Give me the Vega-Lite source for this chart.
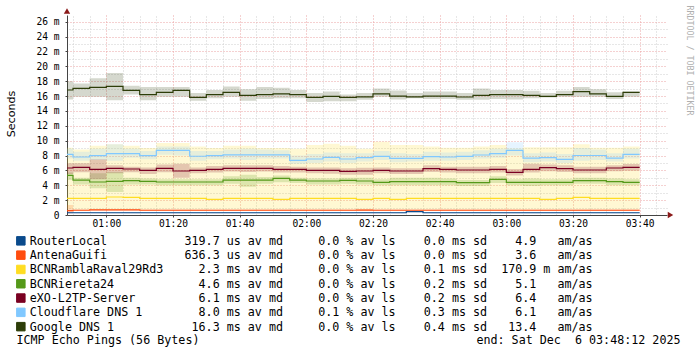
{
"$schema": "https://vega.github.io/schema/vega-lite/v6.json",
"width": 600,
"height": 200,
"autosize": {"type": "none"},
"padding": {"left": 67, "top": 15, "right": 30, "bottom": 138},
"background": "white",
"config": {"view": {"stroke": null}},
"resolve": {"axis": {"x": "independent", "y": "independent"}},
"layer": [
{
"data": {"format": {"parse": {"t": "utc:'%H:%M:%S'"}}, "values": [
{"s":"RouterLocal","t":"00:48:12","m":0.3,"l":0.24,"h":0.38},
{"s":"RouterLocal","t":"00:50:00","m":0.3,"l":0.24,"h":0.38},
{"s":"RouterLocal","t":"00:55:00","m":0.3,"l":0.24,"h":0.38},
{"s":"RouterLocal","t":"01:00:00","m":0.3,"l":0.24,"h":0.38},
{"s":"RouterLocal","t":"01:05:00","m":0.3,"l":0.24,"h":0.38},
{"s":"RouterLocal","t":"01:10:00","m":0.3,"l":0.24,"h":0.38},
{"s":"RouterLocal","t":"01:15:00","m":0.3,"l":0.24,"h":0.38},
{"s":"RouterLocal","t":"01:20:00","m":0.3,"l":0.24,"h":0.38},
{"s":"RouterLocal","t":"01:25:00","m":0.3,"l":0.24,"h":0.38},
{"s":"RouterLocal","t":"01:30:00","m":0.3,"l":0.24,"h":0.38},
{"s":"RouterLocal","t":"01:35:00","m":0.3,"l":0.24,"h":0.38},
{"s":"RouterLocal","t":"01:40:00","m":0.3,"l":0.24,"h":0.38},
{"s":"RouterLocal","t":"01:45:00","m":0.3,"l":0.24,"h":0.38},
{"s":"RouterLocal","t":"01:50:00","m":0.3,"l":0.24,"h":0.38},
{"s":"RouterLocal","t":"01:55:00","m":0.3,"l":0.24,"h":0.38},
{"s":"RouterLocal","t":"02:00:00","m":0.3,"l":0.24,"h":0.38},
{"s":"RouterLocal","t":"02:05:00","m":0.3,"l":0.24,"h":0.38},
{"s":"RouterLocal","t":"02:10:00","m":0.3,"l":0.24,"h":0.38},
{"s":"RouterLocal","t":"02:15:00","m":0.3,"l":0.24,"h":0.38},
{"s":"RouterLocal","t":"02:20:00","m":0.3,"l":0.24,"h":0.38},
{"s":"RouterLocal","t":"02:25:00","m":0.3,"l":0.24,"h":0.38},
{"s":"RouterLocal","t":"02:30:00","m":0.45,"l":0.38,"h":0.52},
{"s":"RouterLocal","t":"02:35:00","m":0.3,"l":0.24,"h":0.38},
{"s":"RouterLocal","t":"02:40:00","m":0.3,"l":0.24,"h":0.38},
{"s":"RouterLocal","t":"02:45:00","m":0.3,"l":0.24,"h":0.38},
{"s":"RouterLocal","t":"02:50:00","m":0.3,"l":0.24,"h":0.38},
{"s":"RouterLocal","t":"02:55:00","m":0.3,"l":0.24,"h":0.38},
{"s":"RouterLocal","t":"03:00:00","m":0.3,"l":0.24,"h":0.38},
{"s":"RouterLocal","t":"03:05:00","m":0.3,"l":0.24,"h":0.38},
{"s":"RouterLocal","t":"03:10:00","m":0.3,"l":0.24,"h":0.38},
{"s":"RouterLocal","t":"03:15:00","m":0.3,"l":0.24,"h":0.38},
{"s":"RouterLocal","t":"03:20:00","m":0.3,"l":0.24,"h":0.38},
{"s":"RouterLocal","t":"03:25:00","m":0.3,"l":0.24,"h":0.38},
{"s":"RouterLocal","t":"03:30:00","m":0.3,"l":0.24,"h":0.38},
{"s":"RouterLocal","t":"03:35:00","m":0.3,"l":0.24,"h":0.38},
{"s":"RouterLocal","t":"03:40:00","m":0.3,"l":0.24,"h":0.38},
{"s":"AntenaGuifi","t":"00:48:12","m":0.6,"l":0.25,"h":1.35},
{"s":"AntenaGuifi","t":"00:50:00","m":0.64,"l":0.55,"h":0.75},
{"s":"AntenaGuifi","t":"00:55:00","m":0.68,"l":0.58,"h":0.8},
{"s":"AntenaGuifi","t":"01:00:00","m":0.68,"l":0.58,"h":0.8},
{"s":"AntenaGuifi","t":"01:05:00","m":0.68,"l":0.58,"h":0.8},
{"s":"AntenaGuifi","t":"01:10:00","m":0.64,"l":0.55,"h":0.75},
{"s":"AntenaGuifi","t":"01:15:00","m":0.64,"l":0.55,"h":0.75},
{"s":"AntenaGuifi","t":"01:20:00","m":0.64,"l":0.55,"h":0.75},
{"s":"AntenaGuifi","t":"01:25:00","m":0.64,"l":0.55,"h":0.75},
{"s":"AntenaGuifi","t":"01:30:00","m":0.64,"l":0.55,"h":0.75},
{"s":"AntenaGuifi","t":"01:35:00","m":0.64,"l":0.55,"h":0.75},
{"s":"AntenaGuifi","t":"01:40:00","m":0.64,"l":0.55,"h":0.75},
{"s":"AntenaGuifi","t":"01:45:00","m":0.64,"l":0.55,"h":0.75},
{"s":"AntenaGuifi","t":"01:50:00","m":0.64,"l":0.55,"h":0.75},
{"s":"AntenaGuifi","t":"01:55:00","m":0.64,"l":0.55,"h":0.75},
{"s":"AntenaGuifi","t":"02:00:00","m":0.64,"l":0.55,"h":0.75},
{"s":"AntenaGuifi","t":"02:05:00","m":0.64,"l":0.55,"h":0.75},
{"s":"AntenaGuifi","t":"02:10:00","m":0.64,"l":0.55,"h":0.75},
{"s":"AntenaGuifi","t":"02:15:00","m":0.66,"l":0.55,"h":0.8},
{"s":"AntenaGuifi","t":"02:20:00","m":0.64,"l":0.55,"h":0.75},
{"s":"AntenaGuifi","t":"02:25:00","m":0.64,"l":0.55,"h":0.75},
{"s":"AntenaGuifi","t":"02:30:00","m":0.64,"l":0.55,"h":0.75},
{"s":"AntenaGuifi","t":"02:35:00","m":0.64,"l":0.55,"h":0.75},
{"s":"AntenaGuifi","t":"02:40:00","m":0.64,"l":0.55,"h":0.75},
{"s":"AntenaGuifi","t":"02:45:00","m":0.64,"l":0.55,"h":0.75},
{"s":"AntenaGuifi","t":"02:50:00","m":0.64,"l":0.55,"h":0.75},
{"s":"AntenaGuifi","t":"02:55:00","m":0.64,"l":0.55,"h":0.75},
{"s":"AntenaGuifi","t":"03:00:00","m":0.64,"l":0.55,"h":0.75},
{"s":"AntenaGuifi","t":"03:05:00","m":0.64,"l":0.55,"h":0.75},
{"s":"AntenaGuifi","t":"03:10:00","m":0.64,"l":0.55,"h":0.75},
{"s":"AntenaGuifi","t":"03:15:00","m":0.64,"l":0.55,"h":0.75},
{"s":"AntenaGuifi","t":"03:20:00","m":0.64,"l":0.55,"h":0.75},
{"s":"AntenaGuifi","t":"03:25:00","m":0.64,"l":0.55,"h":0.75},
{"s":"AntenaGuifi","t":"03:30:00","m":0.64,"l":0.55,"h":0.75},
{"s":"AntenaGuifi","t":"03:35:00","m":0.64,"l":0.55,"h":0.75},
{"s":"AntenaGuifi","t":"03:40:00","m":0.64,"l":0.55,"h":0.75},
{"s":"BCNRamblaRaval29Rd3","t":"00:48:12","m":2.24,"l":0.75,"h":9.05},
{"s":"BCNRamblaRaval29Rd3","t":"00:50:00","m":2.24,"l":0.75,"h":8.8},
{"s":"BCNRamblaRaval29Rd3","t":"00:55:00","m":2.24,"l":0.75,"h":9.3},
{"s":"BCNRamblaRaval29Rd3","t":"01:00:00","m":2.42,"l":0.75,"h":9.5},
{"s":"BCNRamblaRaval29Rd3","t":"01:05:00","m":2.38,"l":0.75,"h":9.3},
{"s":"BCNRamblaRaval29Rd3","t":"01:10:00","m":2.24,"l":0.75,"h":9.0},
{"s":"BCNRamblaRaval29Rd3","t":"01:15:00","m":2.24,"l":0.75,"h":9.7},
{"s":"BCNRamblaRaval29Rd3","t":"01:20:00","m":2.24,"l":0.75,"h":9.7},
{"s":"BCNRamblaRaval29Rd3","t":"01:25:00","m":2.24,"l":0.75,"h":9.2},
{"s":"BCNRamblaRaval29Rd3","t":"01:30:00","m":2.1,"l":0.75,"h":9.0},
{"s":"BCNRamblaRaval29Rd3","t":"01:35:00","m":2.24,"l":0.75,"h":9.3},
{"s":"BCNRamblaRaval29Rd3","t":"01:40:00","m":2.24,"l":0.75,"h":9.3},
{"s":"BCNRamblaRaval29Rd3","t":"01:45:00","m":2.24,"l":0.75,"h":9.0},
{"s":"BCNRamblaRaval29Rd3","t":"01:50:00","m":2.1,"l":0.75,"h":9.0},
{"s":"BCNRamblaRaval29Rd3","t":"01:55:00","m":2.24,"l":0.75,"h":8.9},
{"s":"BCNRamblaRaval29Rd3","t":"02:00:00","m":2.24,"l":0.75,"h":9.4},
{"s":"BCNRamblaRaval29Rd3","t":"02:05:00","m":2.24,"l":0.75,"h":9.6},
{"s":"BCNRamblaRaval29Rd3","t":"02:10:00","m":2.24,"l":0.75,"h":9.3},
{"s":"BCNRamblaRaval29Rd3","t":"02:15:00","m":2.1,"l":0.75,"h":8.9},
{"s":"BCNRamblaRaval29Rd3","t":"02:20:00","m":2.24,"l":0.75,"h":9.86},
{"s":"BCNRamblaRaval29Rd3","t":"02:25:00","m":2.1,"l":0.75,"h":9.4},
{"s":"BCNRamblaRaval29Rd3","t":"02:30:00","m":2.24,"l":0.75,"h":9.4},
{"s":"BCNRamblaRaval29Rd3","t":"02:35:00","m":2.24,"l":0.75,"h":9.2},
{"s":"BCNRamblaRaval29Rd3","t":"02:40:00","m":2.24,"l":0.75,"h":9.05},
{"s":"BCNRamblaRaval29Rd3","t":"02:45:00","m":2.24,"l":0.75,"h":9.05},
{"s":"BCNRamblaRaval29Rd3","t":"02:50:00","m":2.24,"l":0.75,"h":9.2},
{"s":"BCNRamblaRaval29Rd3","t":"02:55:00","m":2.24,"l":0.75,"h":9.4},
{"s":"BCNRamblaRaval29Rd3","t":"03:00:00","m":2.24,"l":0.75,"h":8.96},
{"s":"BCNRamblaRaval29Rd3","t":"03:05:00","m":2.24,"l":0.75,"h":9.1},
{"s":"BCNRamblaRaval29Rd3","t":"03:10:00","m":2.1,"l":0.75,"h":9.1},
{"s":"BCNRamblaRaval29Rd3","t":"03:15:00","m":2.24,"l":0.75,"h":9.1},
{"s":"BCNRamblaRaval29Rd3","t":"03:20:00","m":2.38,"l":0.75,"h":9.5},
{"s":"BCNRamblaRaval29Rd3","t":"03:25:00","m":2.24,"l":0.75,"h":9.05},
{"s":"BCNRamblaRaval29Rd3","t":"03:30:00","m":2.24,"l":0.75,"h":9.05},
{"s":"BCNRamblaRaval29Rd3","t":"03:35:00","m":2.24,"l":0.75,"h":9.2},
{"s":"BCNRamblaRaval29Rd3","t":"03:40:00","m":2.24,"l":0.75,"h":9.2},
{"s":"BCNRiereta24","t":"00:48:12","m":5.33,"l":4.7,"h":5.7},
{"s":"BCNRiereta24","t":"00:50:00","m":4.7,"l":4.1,"h":5.0},
{"s":"BCNRiereta24","t":"00:55:00","m":4.44,"l":3.6,"h":5.6},
{"s":"BCNRiereta24","t":"01:00:00","m":4.53,"l":3.1,"h":5.8},
{"s":"BCNRiereta24","t":"01:05:00","m":4.62,"l":4.1,"h":5.0},
{"s":"BCNRiereta24","t":"01:10:00","m":4.53,"l":4.1,"h":4.9},
{"s":"BCNRiereta24","t":"01:15:00","m":4.44,"l":4.0,"h":4.8},
{"s":"BCNRiereta24","t":"01:20:00","m":4.44,"l":4.0,"h":4.8},
{"s":"BCNRiereta24","t":"01:25:00","m":4.44,"l":4.0,"h":4.8},
{"s":"BCNRiereta24","t":"01:30:00","m":4.44,"l":4.0,"h":4.8},
{"s":"BCNRiereta24","t":"01:35:00","m":4.7,"l":4.2,"h":5.2},
{"s":"BCNRiereta24","t":"01:40:00","m":4.7,"l":3.8,"h":5.4},
{"s":"BCNRiereta24","t":"01:45:00","m":4.7,"l":4.2,"h":5.1},
{"s":"BCNRiereta24","t":"01:50:00","m":4.93,"l":4.4,"h":5.3},
{"s":"BCNRiereta24","t":"01:55:00","m":4.7,"l":4.3,"h":5.0},
{"s":"BCNRiereta24","t":"02:00:00","m":4.57,"l":4.1,"h":4.9},
{"s":"BCNRiereta24","t":"02:05:00","m":4.57,"l":4.1,"h":4.9},
{"s":"BCNRiereta24","t":"02:10:00","m":4.66,"l":4.2,"h":5.0},
{"s":"BCNRiereta24","t":"02:15:00","m":4.57,"l":4.1,"h":5.0},
{"s":"BCNRiereta24","t":"02:20:00","m":4.39,"l":4.0,"h":4.8},
{"s":"BCNRiereta24","t":"02:25:00","m":4.48,"l":4.0,"h":5.0},
{"s":"BCNRiereta24","t":"02:30:00","m":4.48,"l":4.0,"h":5.0},
{"s":"BCNRiereta24","t":"02:35:00","m":4.48,"l":4.0,"h":5.0},
{"s":"BCNRiereta24","t":"02:40:00","m":4.48,"l":4.0,"h":4.9},
{"s":"BCNRiereta24","t":"02:45:00","m":4.35,"l":3.9,"h":4.7},
{"s":"BCNRiereta24","t":"02:50:00","m":4.35,"l":3.9,"h":4.7},
{"s":"BCNRiereta24","t":"02:55:00","m":4.8,"l":4.3,"h":5.2},
{"s":"BCNRiereta24","t":"03:00:00","m":4.39,"l":4.0,"h":4.8},
{"s":"BCNRiereta24","t":"03:05:00","m":4.39,"l":3.9,"h":4.9},
{"s":"BCNRiereta24","t":"03:10:00","m":4.39,"l":4.0,"h":4.8},
{"s":"BCNRiereta24","t":"03:15:00","m":4.39,"l":4.0,"h":4.8},
{"s":"BCNRiereta24","t":"03:20:00","m":4.62,"l":4.2,"h":5.0},
{"s":"BCNRiereta24","t":"03:25:00","m":4.62,"l":4.2,"h":5.0},
{"s":"BCNRiereta24","t":"03:30:00","m":4.48,"l":4.0,"h":4.9},
{"s":"BCNRiereta24","t":"03:35:00","m":4.39,"l":4.0,"h":4.8},
{"s":"BCNRiereta24","t":"03:40:00","m":4.39,"l":4.0,"h":4.8},
{"s":"eXO-L2TP-Server","t":"00:48:12","m":6.32,"l":5.5,"h":6.95},
{"s":"eXO-L2TP-Server","t":"00:50:00","m":6.41,"l":5.75,"h":6.95},
{"s":"eXO-L2TP-Server","t":"00:55:00","m":6.14,"l":4.8,"h":7.5},
{"s":"eXO-L2TP-Server","t":"01:00:00","m":6.28,"l":5.6,"h":6.7},
{"s":"eXO-L2TP-Server","t":"01:05:00","m":6.19,"l":5.75,"h":6.5},
{"s":"eXO-L2TP-Server","t":"01:10:00","m":6.0,"l":5.5,"h":6.4},
{"s":"eXO-L2TP-Server","t":"01:15:00","m":6.28,"l":5.75,"h":6.8},
{"s":"eXO-L2TP-Server","t":"01:20:00","m":5.92,"l":5.0,"h":6.9},
{"s":"eXO-L2TP-Server","t":"01:25:00","m":6.0,"l":5.6,"h":6.4},
{"s":"eXO-L2TP-Server","t":"01:30:00","m":6.14,"l":5.7,"h":6.6},
{"s":"eXO-L2TP-Server","t":"01:35:00","m":6.28,"l":5.85,"h":6.7},
{"s":"eXO-L2TP-Server","t":"01:40:00","m":6.28,"l":5.8,"h":6.7},
{"s":"eXO-L2TP-Server","t":"01:45:00","m":6.28,"l":5.85,"h":6.7},
{"s":"eXO-L2TP-Server","t":"01:50:00","m":6.14,"l":5.7,"h":6.6},
{"s":"eXO-L2TP-Server","t":"01:55:00","m":6.14,"l":5.7,"h":6.5},
{"s":"eXO-L2TP-Server","t":"02:00:00","m":6.0,"l":5.6,"h":6.4},
{"s":"eXO-L2TP-Server","t":"02:05:00","m":6.0,"l":5.55,"h":6.4},
{"s":"eXO-L2TP-Server","t":"02:10:00","m":5.87,"l":5.4,"h":6.3},
{"s":"eXO-L2TP-Server","t":"02:15:00","m":5.92,"l":5.4,"h":6.35},
{"s":"eXO-L2TP-Server","t":"02:20:00","m":6.0,"l":5.6,"h":6.4},
{"s":"eXO-L2TP-Server","t":"02:25:00","m":5.92,"l":5.5,"h":6.3},
{"s":"eXO-L2TP-Server","t":"02:30:00","m":5.92,"l":5.5,"h":6.3},
{"s":"eXO-L2TP-Server","t":"02:35:00","m":6.23,"l":5.8,"h":6.7},
{"s":"eXO-L2TP-Server","t":"02:40:00","m":6.14,"l":5.7,"h":6.5},
{"s":"eXO-L2TP-Server","t":"02:45:00","m":6.05,"l":5.6,"h":6.5},
{"s":"eXO-L2TP-Server","t":"02:50:00","m":6.05,"l":5.6,"h":6.5},
{"s":"eXO-L2TP-Server","t":"02:55:00","m":6.14,"l":5.7,"h":6.6},
{"s":"eXO-L2TP-Server","t":"03:00:00","m":5.74,"l":5.3,"h":6.2},
{"s":"eXO-L2TP-Server","t":"03:05:00","m":6.14,"l":5.7,"h":6.9},
{"s":"eXO-L2TP-Server","t":"03:10:00","m":6.36,"l":5.9,"h":6.8},
{"s":"eXO-L2TP-Server","t":"03:15:00","m":6.23,"l":5.8,"h":6.7},
{"s":"eXO-L2TP-Server","t":"03:20:00","m":6.05,"l":5.6,"h":6.5},
{"s":"eXO-L2TP-Server","t":"03:25:00","m":6.05,"l":5.6,"h":6.5},
{"s":"eXO-L2TP-Server","t":"03:30:00","m":6.32,"l":5.9,"h":6.7},
{"s":"eXO-L2TP-Server","t":"03:35:00","m":6.41,"l":5.95,"h":6.85},
{"s":"eXO-L2TP-Server","t":"03:40:00","m":6.41,"l":5.95,"h":6.85},
{"s":"Cloudflare DNS 1","t":"00:48:12","m":8.16,"l":7.6,"h":8.9},
{"s":"Cloudflare DNS 1","t":"00:50:00","m":7.8,"l":7.3,"h":8.5},
{"s":"Cloudflare DNS 1","t":"00:55:00","m":7.98,"l":7.4,"h":8.9},
{"s":"Cloudflare DNS 1","t":"01:00:00","m":8.25,"l":7.3,"h":9.5},
{"s":"Cloudflare DNS 1","t":"01:05:00","m":8.25,"l":7.7,"h":8.9},
{"s":"Cloudflare DNS 1","t":"01:10:00","m":7.98,"l":7.5,"h":8.6},
{"s":"Cloudflare DNS 1","t":"01:15:00","m":8.7,"l":8.1,"h":9.2},
{"s":"Cloudflare DNS 1","t":"01:20:00","m":8.7,"l":8.0,"h":9.2},
{"s":"Cloudflare DNS 1","t":"01:25:00","m":7.9,"l":7.3,"h":8.6},
{"s":"Cloudflare DNS 1","t":"01:30:00","m":7.98,"l":7.5,"h":8.6},
{"s":"Cloudflare DNS 1","t":"01:35:00","m":8.1,"l":7.6,"h":8.8},
{"s":"Cloudflare DNS 1","t":"01:40:00","m":8.1,"l":7.4,"h":8.9},
{"s":"Cloudflare DNS 1","t":"01:45:00","m":8.1,"l":7.6,"h":8.8},
{"s":"Cloudflare DNS 1","t":"01:50:00","m":8.1,"l":7.6,"h":8.7},
{"s":"Cloudflare DNS 1","t":"01:55:00","m":7.35,"l":6.9,"h":8.0},
{"s":"Cloudflare DNS 1","t":"02:00:00","m":7.53,"l":7.0,"h":8.2},
{"s":"Cloudflare DNS 1","t":"02:05:00","m":7.75,"l":7.2,"h":8.4},
{"s":"Cloudflare DNS 1","t":"02:10:00","m":7.53,"l":7.0,"h":8.3},
{"s":"Cloudflare DNS 1","t":"02:15:00","m":7.71,"l":7.2,"h":8.3},
{"s":"Cloudflare DNS 1","t":"02:20:00","m":7.89,"l":7.4,"h":8.6},
{"s":"Cloudflare DNS 1","t":"02:25:00","m":7.62,"l":7.1,"h":8.3},
{"s":"Cloudflare DNS 1","t":"02:30:00","m":7.62,"l":7.2,"h":8.2},
{"s":"Cloudflare DNS 1","t":"02:35:00","m":7.84,"l":7.3,"h":8.5},
{"s":"Cloudflare DNS 1","t":"02:40:00","m":7.8,"l":7.3,"h":8.4},
{"s":"Cloudflare DNS 1","t":"02:45:00","m":7.89,"l":7.4,"h":8.5},
{"s":"Cloudflare DNS 1","t":"02:50:00","m":8.07,"l":7.6,"h":8.7},
{"s":"Cloudflare DNS 1","t":"02:55:00","m":8.25,"l":7.7,"h":8.9},
{"s":"Cloudflare DNS 1","t":"03:00:00","m":8.7,"l":8.0,"h":9.77},
{"s":"Cloudflare DNS 1","t":"03:05:00","m":7.66,"l":7.1,"h":8.3},
{"s":"Cloudflare DNS 1","t":"03:10:00","m":7.71,"l":7.2,"h":8.4},
{"s":"Cloudflare DNS 1","t":"03:15:00","m":7.49,"l":7.0,"h":8.2},
{"s":"Cloudflare DNS 1","t":"03:20:00","m":8.0,"l":7.3,"h":9.0},
{"s":"Cloudflare DNS 1","t":"03:25:00","m":8.0,"l":7.4,"h":8.8},
{"s":"Cloudflare DNS 1","t":"03:30:00","m":7.66,"l":7.2,"h":8.3},
{"s":"Cloudflare DNS 1","t":"03:35:00","m":8.16,"l":7.6,"h":8.9},
{"s":"Cloudflare DNS 1","t":"03:40:00","m":8.16,"l":7.6,"h":8.9},
{"s":"Google DNS 1","t":"00:48:12","m":16.81,"l":15.55,"h":18.0},
{"s":"Google DNS 1","t":"00:50:00","m":17.04,"l":15.9,"h":17.7},
{"s":"Google DNS 1","t":"00:55:00","m":17.17,"l":15.9,"h":18.4},
{"s":"Google DNS 1","t":"01:00:00","m":17.3,"l":15.45,"h":19.1},
{"s":"Google DNS 1","t":"01:05:00","m":16.77,"l":16.2,"h":17.4},
{"s":"Google DNS 1","t":"01:10:00","m":16.18,"l":15.45,"h":17.2},
{"s":"Google DNS 1","t":"01:15:00","m":16.5,"l":15.9,"h":17.2},
{"s":"Google DNS 1","t":"01:20:00","m":16.77,"l":15.9,"h":17.2},
{"s":"Google DNS 1","t":"01:25:00","m":15.83,"l":15.35,"h":16.4},
{"s":"Google DNS 1","t":"01:30:00","m":16.2,"l":15.7,"h":16.8},
{"s":"Google DNS 1","t":"01:35:00","m":16.5,"l":15.9,"h":17.3},
{"s":"Google DNS 1","t":"01:40:00","m":16.1,"l":15.35,"h":16.9},
{"s":"Google DNS 1","t":"01:45:00","m":16.18,"l":15.6,"h":17.2},
{"s":"Google DNS 1","t":"01:50:00","m":16.3,"l":15.7,"h":17.1},
{"s":"Google DNS 1","t":"01:55:00","m":16.18,"l":15.7,"h":16.8},
{"s":"Google DNS 1","t":"02:00:00","m":15.83,"l":15.2,"h":16.4},
{"s":"Google DNS 1","t":"02:05:00","m":15.96,"l":15.3,"h":16.6},
{"s":"Google DNS 1","t":"02:10:00","m":15.83,"l":15.3,"h":16.2},
{"s":"Google DNS 1","t":"02:15:00","m":15.9,"l":15.5,"h":16.4},
{"s":"Google DNS 1","t":"02:20:00","m":16.3,"l":15.9,"h":17.0},
{"s":"Google DNS 1","t":"02:25:00","m":16.0,"l":15.55,"h":16.75},
{"s":"Google DNS 1","t":"02:30:00","m":15.9,"l":15.7,"h":16.4},
{"s":"Google DNS 1","t":"02:35:00","m":16.0,"l":15.6,"h":16.6},
{"s":"Google DNS 1","t":"02:40:00","m":16.0,"l":15.6,"h":16.6},
{"s":"Google DNS 1","t":"02:45:00","m":15.87,"l":15.5,"h":16.4},
{"s":"Google DNS 1","t":"02:50:00","m":16.1,"l":15.5,"h":17.0},
{"s":"Google DNS 1","t":"02:55:00","m":16.2,"l":15.6,"h":16.8},
{"s":"Google DNS 1","t":"03:00:00","m":16.2,"l":15.55,"h":16.8},
{"s":"Google DNS 1","t":"03:05:00","m":16.1,"l":15.7,"h":16.7},
{"s":"Google DNS 1","t":"03:10:00","m":15.96,"l":15.8,"h":16.4},
{"s":"Google DNS 1","t":"03:15:00","m":16.2,"l":15.9,"h":16.7},
{"s":"Google DNS 1","t":"03:20:00","m":16.6,"l":15.9,"h":17.2},
{"s":"Google DNS 1","t":"03:25:00","m":16.3,"l":15.9,"h":16.9},
{"s":"Google DNS 1","t":"03:30:00","m":15.96,"l":15.6,"h":16.5},
{"s":"Google DNS 1","t":"03:35:00","m":16.5,"l":15.9,"h":16.6},
{"s":"Google DNS 1","t":"03:40:00","m":16.5,"l":15.9,"h":16.6}
]},
"encoding": {
"x": {"field": "t", "type": "temporal",
 "scale": {"type": "utc", "domain": [{"year": 1900, "month": 1, "date": 1, "hours": 0, "minutes": 48, "seconds": 12, "utc": true}, {"year": 1900, "month": 1, "date": 1, "hours": 3, "minutes": 48, "seconds": 12, "utc": true}]},
 "axis": {"orient": "bottom",
  "values": [
   {"year": 1900, "month": 1, "date": 1, "hours": 1, "minutes": 0, "utc": true},
   {"year": 1900, "month": 1, "date": 1, "hours": 1, "minutes": 20, "utc": true},
   {"year": 1900, "month": 1, "date": 1, "hours": 1, "minutes": 40, "utc": true},
   {"year": 1900, "month": 1, "date": 1, "hours": 2, "minutes": 0, "utc": true},
   {"year": 1900, "month": 1, "date": 1, "hours": 2, "minutes": 20, "utc": true},
   {"year": 1900, "month": 1, "date": 1, "hours": 2, "minutes": 40, "utc": true},
   {"year": 1900, "month": 1, "date": 1, "hours": 3, "minutes": 0, "utc": true},
   {"year": 1900, "month": 1, "date": 1, "hours": 3, "minutes": 20, "utc": true},
   {"year": 1900, "month": 1, "date": 1, "hours": 3, "minutes": 40, "utc": true}],
  "format": "%H:%M",
  "labelFont": "DejaVu Sans Mono", "labelFontSize": 9.6, "labelColor": "#000", "labelPadding": 1.5, "labelOverlap": false, "labelFlush": false,
  "ticks": true, "tickSize": 2, "tickColor": "#444",
  "grid": true, "gridColor": "#eba3a3", "gridDash": [1, 2], "gridWidth": 1,
  "domainColor": "#444", "domainWidth": 1,
  "title": "end: Sat Dec\u00a0 6 03:48:12 2025", "titleX": 613, "titleY": 124, "titleAlign": "right", "titleBaseline": "middle", "titleAngle": 0,
  "titleFont": "DejaVu Sans Mono", "titleFontSize": 11.7, "titleFontWeight": "normal", "titleColor": "#000", "titleLimit": 1000}},
"color": {"field": "s", "type": "nominal",
 "scale": {"domain": ["RouterLocal", "AntenaGuifi", "BCNRamblaRaval29Rd3", "BCNRiereta24", "eXO-L2TP-Server", "Cloudflare DNS 1", "Google DNS 1"],
  "range": ["#0a4a8c", "#ff4d0f", "#ffdd22", "#55991a", "#7a0022", "#80c8ff", "#2d3d08"]},
 "legend": {"orient": "none", "legendX": -52, "legendY": 220, "direction": "vertical", "title": null, "padding": 0, "rowPadding": 0.3,
  "symbolType": "square", "symbolSize": 72, "symbolStrokeColor": "#000", "symbolStrokeWidth": 1, "symbolOpacity": 1,
  "labelFont": "DejaVu Sans Mono", "labelFontSize": 11.7, "labelColor": "#000", "labelLimit": 1000, "labelOffset": 3,
  "encode": {"symbols": {"update": {"stroke": {"value": "#000"}, "strokeWidth": {"value": 1}}}},
  "labelExpr": "datum.label === 'RouterLocal' ? 'RouterLocal\u00a0\u00a0\u00a0\u00a0\u00a0\u00a0\u00a0\u00a0\u00a0\u00a0\u00a0319.7 us av md\u00a0\u00a0\u00a0\u00a0\u00a00.0 % av ls\u00a0\u00a0\u00a0\u00a00.0 ms sd\u00a0\u00a0\u00a0\u00a04.9\u00a0\u00a0\u00a0am/as' : datum.label === 'AntenaGuifi' ? 'AntenaGuifi\u00a0\u00a0\u00a0\u00a0\u00a0\u00a0\u00a0\u00a0\u00a0\u00a0\u00a0636.3 us av md\u00a0\u00a0\u00a0\u00a0\u00a00.0 % av ls\u00a0\u00a0\u00a0\u00a00.0 ms sd\u00a0\u00a0\u00a0\u00a03.6\u00a0\u00a0\u00a0am/as' : datum.label === 'BCNRamblaRaval29Rd3' ? 'BCNRamblaRaval29Rd3\u00a0\u00a0\u00a0\u00a0\u00a02.3 ms av md\u00a0\u00a0\u00a0\u00a0\u00a00.0 % av ls\u00a0\u00a0\u00a0\u00a00.1 ms sd\u00a0\u00a0170.9 m am/as' : datum.label === 'BCNRiereta24' ? 'BCNRiereta24\u00a0\u00a0\u00a0\u00a0\u00a0\u00a0\u00a0\u00a0\u00a0\u00a0\u00a0\u00a04.6 ms av md\u00a0\u00a0\u00a0\u00a0\u00a00.0 % av ls\u00a0\u00a0\u00a0\u00a00.2 ms sd\u00a0\u00a0\u00a0\u00a05.1\u00a0\u00a0\u00a0am/as' : datum.label === 'eXO-L2TP-Server' ? 'eXO-L2TP-Server\u00a0\u00a0\u00a0\u00a0\u00a0\u00a0\u00a0\u00a0\u00a06.1 ms av md\u00a0\u00a0\u00a0\u00a0\u00a00.0 % av ls\u00a0\u00a0\u00a0\u00a00.2 ms sd\u00a0\u00a0\u00a0\u00a06.4\u00a0\u00a0\u00a0am/as' : datum.label === 'Cloudflare DNS 1' ? 'Cloudflare DNS 1\u00a0\u00a0\u00a0\u00a0\u00a0\u00a0\u00a0\u00a08.0 ms av md\u00a0\u00a0\u00a0\u00a0\u00a00.1 % av ls\u00a0\u00a0\u00a0\u00a00.3 ms sd\u00a0\u00a0\u00a0\u00a06.1\u00a0\u00a0\u00a0am/as' : 'Google DNS 1\u00a0\u00a0\u00a0\u00a0\u00a0\u00a0\u00a0\u00a0\u00a0\u00a0\u00a016.3 ms av md\u00a0\u00a0\u00a0\u00a0\u00a00.0 % av ls\u00a0\u00a0\u00a0\u00a00.4 ms sd\u00a0\u00a0\u00a013.4\u00a0\u00a0\u00a0am/as'"}}
},
"layer": [
{"mark": {"type": "area", "interpolate": "step-after", "fillOpacity": 0.2},
 "encoding": {
  "y": {"field": "l", "type": "quantitative", "stack": null,
   "scale": {"domain": [0, 26.9], "nice": false, "zero": false},
   "axis": {"orient": "left", "values": [0,2,4,6,8,10,12,14,16,18,20,22,24,26],
    "labelExpr": "datum.value === 0 ? '0\u00a0\u00a0' : datum.label + '\u00a0m'",
    "labelFont": "DejaVu Sans Mono", "labelFontSize": 9.6, "labelColor": "#000", "labelPadding": 6, "labelOverlap": false, "labelFlush": false,
    "ticks": true, "tickSize": 2, "tickColor": "#444",
    "grid": true, "gridColor": "#eba3a3", "gridDash": [1, 2], "gridWidth": 1,
    "domainColor": "#444", "domainWidth": 1,
    "title": "Seconds", "titleX": -56, "titleY": 98.5, "titleAngle": -90, "titleAlign": "center", "titleBaseline": "middle",
    "titleFont": "DejaVu Sans", "titleFontSize": 11.1, "titleFontWeight": "normal", "titleColor": "#000"}},
  "y2": {"field": "h"}
 }},
{"mark": {"type": "line", "interpolate": "step-after", "strokeWidth": 1.2},
 "encoding": {"y": {"field": "m", "type": "quantitative",
   "axis": {"orient": "left", "values": [0,2,4,6,8,10,12,14,16,18,20,22,24,26],
    "labelExpr": "datum.value === 0 ? '0\u00a0\u00a0' : datum.label + '\u00a0m'",
    "labelFont": "DejaVu Sans Mono", "labelFontSize": 9.6, "labelColor": "#000", "labelPadding": 6, "labelOverlap": false, "labelFlush": false,
    "ticks": true, "tickSize": 2, "tickColor": "#444",
    "grid": true, "gridColor": "#eba3a3", "gridDash": [1, 2], "gridWidth": 1,
    "domainColor": "#444", "domainWidth": 1,
    "title": "Seconds", "titleX": -56, "titleY": 98.5, "titleAngle": -90, "titleAlign": "center", "titleBaseline": "middle",
    "titleFont": "DejaVu Sans", "titleFontSize": 11.1, "titleFontWeight": "normal", "titleColor": "#000"}}}}
]
},
{
"data": {"values": [{}]},
"mark": {"type": "point", "shape": "triangle-up", "filled": true, "size": 40, "color": "#8b1a1a", "opacity": 1},
"encoding": {
 "x": {"datum": {"year": 1900, "month": 1, "date": 1, "hours": 0, "minutes": 48, "seconds": 12, "utc": true}, "type": "temporal",
  "axis": {"orient": "top", "domain": false, "ticks": false, "labels": false,
   "values": [
   {"year": 1900, "month": 1, "date": 1, "hours": 0, "minutes": 50, "utc": true},
   {"year": 1900, "month": 1, "date": 1, "hours": 0, "minutes": 55, "utc": true},
   {"year": 1900, "month": 1, "date": 1, "hours": 1, "minutes": 5, "utc": true},
   {"year": 1900, "month": 1, "date": 1, "hours": 1, "minutes": 10, "utc": true},
   {"year": 1900, "month": 1, "date": 1, "hours": 1, "minutes": 15, "utc": true},
   {"year": 1900, "month": 1, "date": 1, "hours": 1, "minutes": 25, "utc": true},
   {"year": 1900, "month": 1, "date": 1, "hours": 1, "minutes": 30, "utc": true},
   {"year": 1900, "month": 1, "date": 1, "hours": 1, "minutes": 35, "utc": true},
   {"year": 1900, "month": 1, "date": 1, "hours": 1, "minutes": 45, "utc": true},
   {"year": 1900, "month": 1, "date": 1, "hours": 1, "minutes": 50, "utc": true},
   {"year": 1900, "month": 1, "date": 1, "hours": 1, "minutes": 55, "utc": true},
   {"year": 1900, "month": 1, "date": 1, "hours": 2, "minutes": 5, "utc": true},
   {"year": 1900, "month": 1, "date": 1, "hours": 2, "minutes": 10, "utc": true},
   {"year": 1900, "month": 1, "date": 1, "hours": 2, "minutes": 15, "utc": true},
   {"year": 1900, "month": 1, "date": 1, "hours": 2, "minutes": 25, "utc": true},
   {"year": 1900, "month": 1, "date": 1, "hours": 2, "minutes": 30, "utc": true},
   {"year": 1900, "month": 1, "date": 1, "hours": 2, "minutes": 35, "utc": true},
   {"year": 1900, "month": 1, "date": 1, "hours": 2, "minutes": 45, "utc": true},
   {"year": 1900, "month": 1, "date": 1, "hours": 2, "minutes": 50, "utc": true},
   {"year": 1900, "month": 1, "date": 1, "hours": 2, "minutes": 55, "utc": true},
   {"year": 1900, "month": 1, "date": 1, "hours": 3, "minutes": 5, "utc": true},
   {"year": 1900, "month": 1, "date": 1, "hours": 3, "minutes": 10, "utc": true},
   {"year": 1900, "month": 1, "date": 1, "hours": 3, "minutes": 15, "utc": true},
   {"year": 1900, "month": 1, "date": 1, "hours": 3, "minutes": 25, "utc": true},
   {"year": 1900, "month": 1, "date": 1, "hours": 3, "minutes": 30, "utc": true},
   {"year": 1900, "month": 1, "date": 1, "hours": 3, "minutes": 35, "utc": true},
   {"year": 1900, "month": 1, "date": 1, "hours": 3, "minutes": 45, "utc": true}],
   "grid": true, "gridColor": "#cfcfcf", "gridDash": [1, 2], "gridWidth": 1,
   "title": "ICMP Echo Pings (56 Bytes)", "titleX": -51, "titleY": 324, "titleAlign": "left", "titleBaseline": "middle", "titleAngle": 0,
   "titleFont": "DejaVu Sans Mono", "titleFontSize": 11.7, "titleFontWeight": "normal", "titleColor": "#000", "titleLimit": 1000}},
 "y": {"datum": 27.45, "type": "quantitative",
  "axis": {"orient": "right", "domain": false, "ticks": false, "labels": false,
   "values": [1,3,5,7,9,11,13,15,17,19,21,23,25],
   "grid": true, "gridColor": "#cfcfcf", "gridDash": [1, 2], "gridWidth": 1,
   "title": "RRDTOOL / TOBI OETIKER", "titleX": 21, "titleY": 45, "titleAngle": 90, "titleAlign": "center", "titleBaseline": "middle",
   "titleFont": "DejaVu Sans Mono", "titleFontSize": 8.3, "titleFontWeight": "normal", "titleColor": "#b0b0b0", "titleLimit": 1000}}
}
},
{
"data": {"values": [{}]},
"mark": {"type": "point", "shape": "triangle-right", "filled": true, "size": 40, "color": "#8b1a1a", "opacity": 1},
"encoding": {
 "x": {"datum": {"year": 1900, "month": 1, "date": 1, "hours": 3, "minutes": 49, "seconds": 15, "utc": true}, "type": "temporal", "axis": null},
 "y": {"datum": 0, "type": "quantitative", "axis": null}
}
}
]
}
